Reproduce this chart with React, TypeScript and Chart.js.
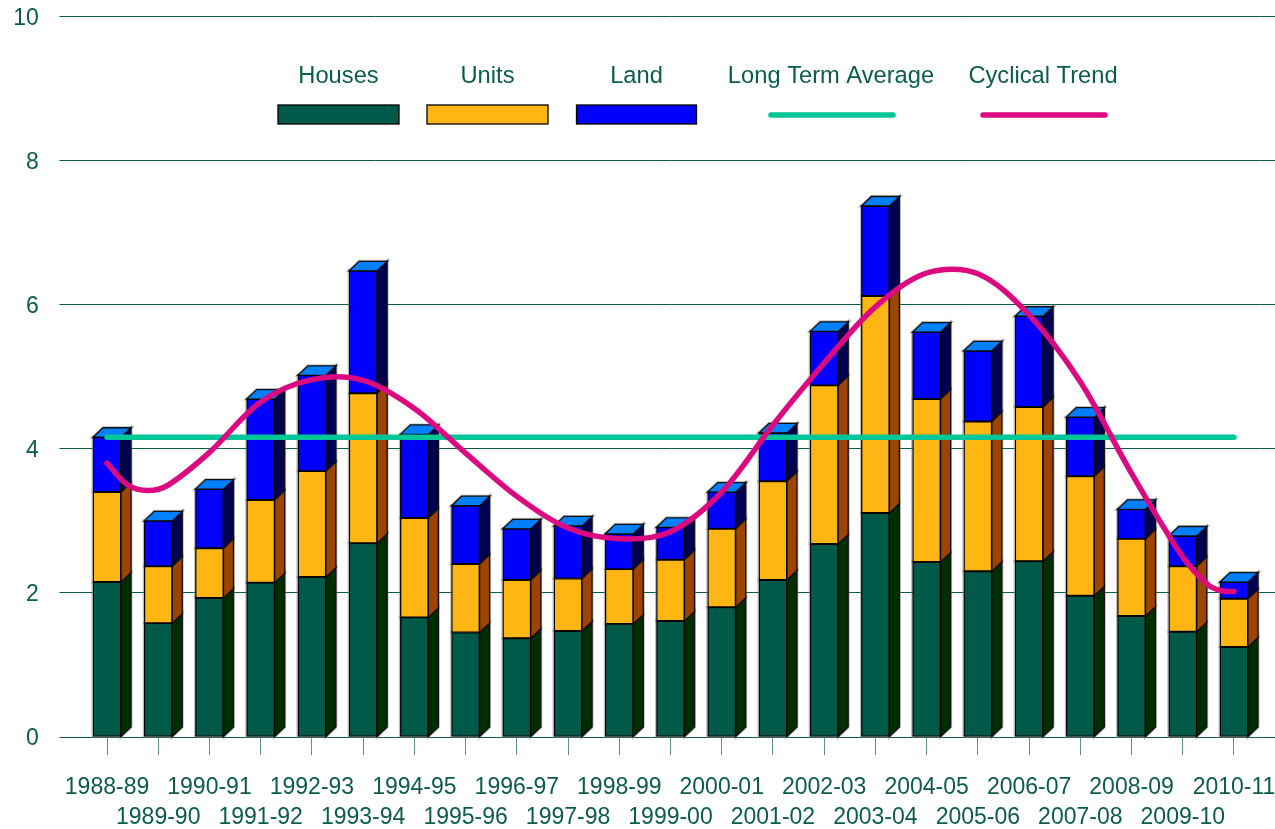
import React, { useEffect, useRef } from "react";
import { Chart, registerables } from "chart.js";

Chart.register(...registerables);

const categories = ["1988-89","1989-90","1990-91","1991-92","1992-93","1993-94","1994-95","1995-96","1996-97","1997-98","1998-99","1999-00","2000-01","2001-02","2002-03","2003-04","2004-05","2005-06","2006-07","2007-08","2008-09","2009-10","2010-11"];
const houses = [2.15,1.58,1.93,2.14,2.22,2.69,1.66,1.45,1.37,1.47,1.57,1.61,1.80,2.18,2.68,3.11,2.43,2.30,2.44,1.96,1.68,1.46,1.25];
const units = [1.25,0.79,0.69,1.15,1.47,2.08,1.38,0.95,0.81,0.73,0.76,0.85,1.09,1.37,2.20,3.01,2.26,2.08,2.14,1.66,1.07,0.91,0.67];
const land = [0.76,0.63,0.82,1.40,1.33,1.70,1.16,0.81,0.71,0.73,0.49,0.45,0.51,0.67,0.75,1.25,0.93,0.98,1.26,0.82,0.41,0.42,0.23];
const longTermAverage = [4.16,4.16,4.16,4.16,4.16,4.16,4.16,4.16,4.16,4.16,4.16,4.16,4.16,4.16,4.16,4.16,4.16,4.16,4.16,4.16,4.16,4.16,4.16];
// The trend curve is read at year positions (0 = 1988-89), denser where it bends sharply.
const trendPositions = [0,0.4,0.8,1.2,2,3,4,5,6,7,8,9,10,11,12,13,14,15,16,17,18,19,20,21,21.5,21.75,22];
const trendValues = [3.80,3.50,3.42,3.50,3.95,4.65,4.96,4.95,4.56,3.94,3.34,2.90,2.75,2.85,3.40,4.33,5.19,5.97,6.44,6.43,5.86,4.93,3.66,2.50,2.11,2.03,2.02];

const TEXT = "#0b5c4c";
const FONT = "Liberation Sans";
const sideColors = ["#002e00", "#9c4400", "#000050"];
const topColor = "#0080ff";
const DX = 10;
const DY = 9.5;

const extrude = {
  id: "extrude",
  beforeDatasetsDraw(chart: any) {
    const { ctx, chartArea, scales } = chart;
    ctx.save();
    ctx.strokeStyle = TEXT;
    ctx.lineWidth = 1;
    for (const t of scales.y.ticks) {
      const y = Math.round(scales.y.getPixelForValue(t.value) - 0.5) + 0.5;
      ctx.beginPath();
      ctx.moveTo(chartArea.right, y);
      ctx.lineTo(chart.width, y);
      ctx.stroke();
    }
    for (let pass = 0; pass < 2; pass++) {
      ctx.lineWidth = pass === 0 ? 3 : 1.3;
      ctx.strokeStyle = pass === 0 ? "rgba(110,110,110,0.45)" : "#101010";
      for (let d = 0; d < 3; d++) {
        chart.getDatasetMeta(d).data.forEach((bar: any) => {
          const p = bar.getProps(["x", "y", "base", "width"], true);
          const r = p.x + p.width / 2;
          const l = p.x - p.width / 2;
          if (pass === 0) {
            ctx.strokeRect(l, p.y, p.width, p.base - p.y);
          }
          ctx.fillStyle = sideColors[d];
          ctx.beginPath();
          ctx.moveTo(r, p.y);
          ctx.lineTo(r + DX, p.y - DY);
          ctx.lineTo(r + DX, p.base - DY);
          ctx.lineTo(r, p.base);
          ctx.closePath();
          if (pass === 1) ctx.fill();
          ctx.stroke();
          if (d === 2) {
            ctx.fillStyle = topColor;
            ctx.beginPath();
            ctx.moveTo(l, p.y);
            ctx.lineTo(l + DX, p.y - DY);
            ctx.lineTo(r + DX, p.y - DY);
            ctx.lineTo(r, p.y);
            ctx.closePath();
            if (pass === 1) ctx.fill();
            ctx.stroke();
          }
        });
      }
    }
    ctx.restore();
  },
};

const legendBoxes = [
  { cx: 338.5, w: 121 },
  { cx: 487.5, w: 121 },
  { cx: 636.5, w: 120 },
];
const legendLines = [
  { cx: 832, tx: 831, w: 122 },
  { cx: 1044, tx: 1043, w: 122 },
];

const topLegend = {
  id: "topLegend",
  afterDatasetsDraw(chart: any) {
    const { ctx } = chart;
    const ds = chart.data.datasets;
    ctx.save();
    ctx.font = `23.7px "${FONT}"`;
    ctx.textAlign = "center";
    ctx.textBaseline = "middle";
    legendBoxes.forEach((b, i) => {
      ctx.fillStyle = TEXT;
      ctx.fillText(ds[i].label, b.cx, 76);
      ctx.fillStyle = ds[i].backgroundColor;
      ctx.strokeStyle = "#000";
      ctx.lineWidth = 1.3;
      ctx.fillRect(b.cx - b.w / 2, 105, b.w, 19);
      ctx.strokeRect(b.cx - b.w / 2, 105, b.w, 19);
    });
    legendLines.forEach((b, i) => {
      const set = ds[i + 3];
      ctx.fillStyle = TEXT;
      ctx.fillText(set.label, b.tx, 76);
      ctx.strokeStyle = set.borderColor;
      ctx.lineWidth = 5.5;
      ctx.lineCap = "round";
      ctx.beginPath();
      ctx.moveTo(b.cx - b.w / 2, 115);
      ctx.lineTo(b.cx + b.w / 2, 115);
      ctx.stroke();
    });
    ctx.restore();
  },
};

const byYear = (values: number[]) => values.map((y, x) => ({ x, y }));

export default function App() {
  const ref = useRef<HTMLCanvasElement>(null);
  useEffect(() => {
    document.body.style.margin = "0";
    const barBase = { type: "bar", stack: "bars", borderColor: "#000", borderWidth: 1.3, borderSkipped: false, barThickness: 28 };
    const chart = new Chart(ref.current as any, {
      type: "bar",
      data: {
        datasets: [
          { ...barBase, label: "Houses", data: byYear(houses), backgroundColor: "#005a4a", order: 3 },
          { ...barBase, label: "Units", data: byYear(units), backgroundColor: "#ffb612", order: 3 },
          { ...barBase, label: "Land", data: byYear(land), backgroundColor: "#0000ff", order: 3 },
          { type: "line", stack: "avg", label: "Long Term Average", data: byYear(longTermAverage), borderColor: "#00c698", backgroundColor: "#00c698", borderWidth: 5.5, pointRadius: 0, borderCapStyle: "round", order: 2 },
          {
            type: "line",
            stack: "trend",
            label: "Cyclical Trend",
            data: trendPositions.map((x, i) => ({ x, y: trendValues[i] })),
            borderColor: "#dc0a80",
            backgroundColor: "#dc0a80",
            borderWidth: 5.5,
            pointRadius: 0,
            tension: 0.33,
            borderCapStyle: "round",
            borderJoinStyle: "round",
            order: 1,
          },
        ],
      } as any,
      options: {
        responsive: false,
        animation: false,
        layout: { padding: { top: 16.5, right: 15.4, left: 0, bottom: 0 } },
        plugins: { legend: { display: false }, tooltip: { enabled: false } },
        scales: {
          x: {
            type: "linear",
            stacked: true,
            offset: false,
            min: -0.5,
            max: 22.5,
            border: { display: false },
            grid: { offset: false, drawOnChartArea: false, drawTicks: true, tickLength: 18, color: "#5d9488" },
            afterBuildTicks(s: any) {
              s.ticks = categories.map((_, value) => ({ value }));
            },
            ticks: {
              autoSkip: false,
              maxRotation: 0,
              minRotation: 0,
              padding: 18,
              color: TEXT,
              font: { family: FONT, size: 23, lineHeight: 1.304 },
              callback(v: number) {
                return v % 2 === 0 ? [categories[v], ""] : ["", categories[v]];
              },
            },
            afterFit(s: any) {
              s.height = 92;
              s.paddingLeft = 0;
              s.paddingRight = 0;
            },
          },
          y: {
            stacked: true,
            min: 0,
            max: 10,
            border: { display: false },
            grid: { color: TEXT, lineWidth: 1, tickLength: 22, drawTicks: true },
            ticks: {
              stepSize: 2,
              padding: 20.5,
              color: TEXT,
              font: { family: FONT, size: 23, lineHeight: "4px" },
              callback(v: any) {
                return ["", String(v)];
              },
            },
            afterFit(s: any) {
              s.width = 81.4;
              s.paddingTop = 0;
              s.paddingBottom = 0;
            },
          },
        },
      } as any,
      plugins: [extrude, topLegend],
    });
    return () => chart.destroy();
  }, []);
  return <canvas ref={ref} width={1275} height={829} style={{ display: "block", width: 1275, height: 829 }} />;
}
